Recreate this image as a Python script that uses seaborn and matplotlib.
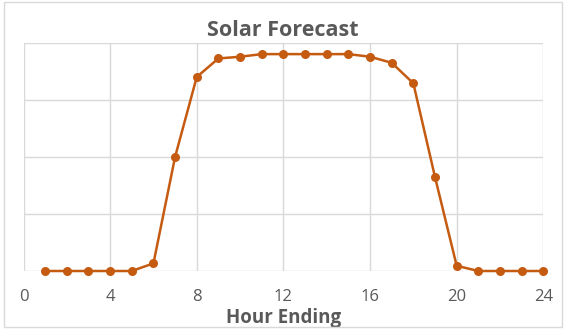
import matplotlib
matplotlib.use("Agg")
import matplotlib.pyplot as plt
import matplotlib.patches as mpatches
import seaborn as sns
import pandas as pd

hours = list(range(1, 25))
solar_mw = [0, 0, 0, 0, 0, 67, 1000, 1700, 1862, 1877, 1900, 1900,
            1900, 1900, 1900, 1877, 1824, 1644, 823, 46, 0, 0, 0, 0]
x_ticks = [0, 4, 8, 12, 16, 20, 24]

df = pd.DataFrame({"hour": hours, "mw": solar_mw})

sns.set_theme(style="white")
plt.rcParams["font.family"] = ["Open Sans", "DejaVu Sans"]

fig = plt.figure(figsize=(5.65, 3.29), dpi=100)
ax = fig.add_axes([23.5 / 565, 58 / 329, (543.3 - 23.5) / 565, (286.3 - 58) / 329])

orange = "#C55A11"
grey_text = "#595959"
grid_col = "#D9D9D9"

sns.lineplot(data=df, x="hour", y="mw", ax=ax, color=orange, linewidth=1.8,
             marker="o", markersize=6.5, markeredgewidth=0, zorder=3,
             clip_on=False)

ax.set_xlim(0, 24)
ax.set_ylim(0, 2000)
ax.set_xticks(x_ticks)
ax.set_yticks([0, 500, 1000, 1500, 2000])
ax.set_yticklabels([])
ax.grid(True, color=grid_col, linewidth=1.0)
for s in ax.spines.values():
    s.set_visible(False)
ax.tick_params(axis="both", length=0, pad=13, labelsize=12, labelcolor=grey_text)
ax.set_xlabel("Hour Ending", fontsize=13.5, fontweight="bold", color=grey_text, labelpad=2)
ax.set_ylabel("")

fig.text(0.5, 1 - 30 / 329, "Solar Forecast", ha="center", va="center",
         fontsize=15.5, fontweight="bold", color=grey_text)

border = mpatches.Rectangle((4 / 565, 2 / 329), 558 / 565, 325 / 329,
                            transform=fig.transFigure, fill=False,
                            edgecolor=grid_col, linewidth=1.0)
fig.patches.append(border)

fig.savefig("out.png", dpi=100)
